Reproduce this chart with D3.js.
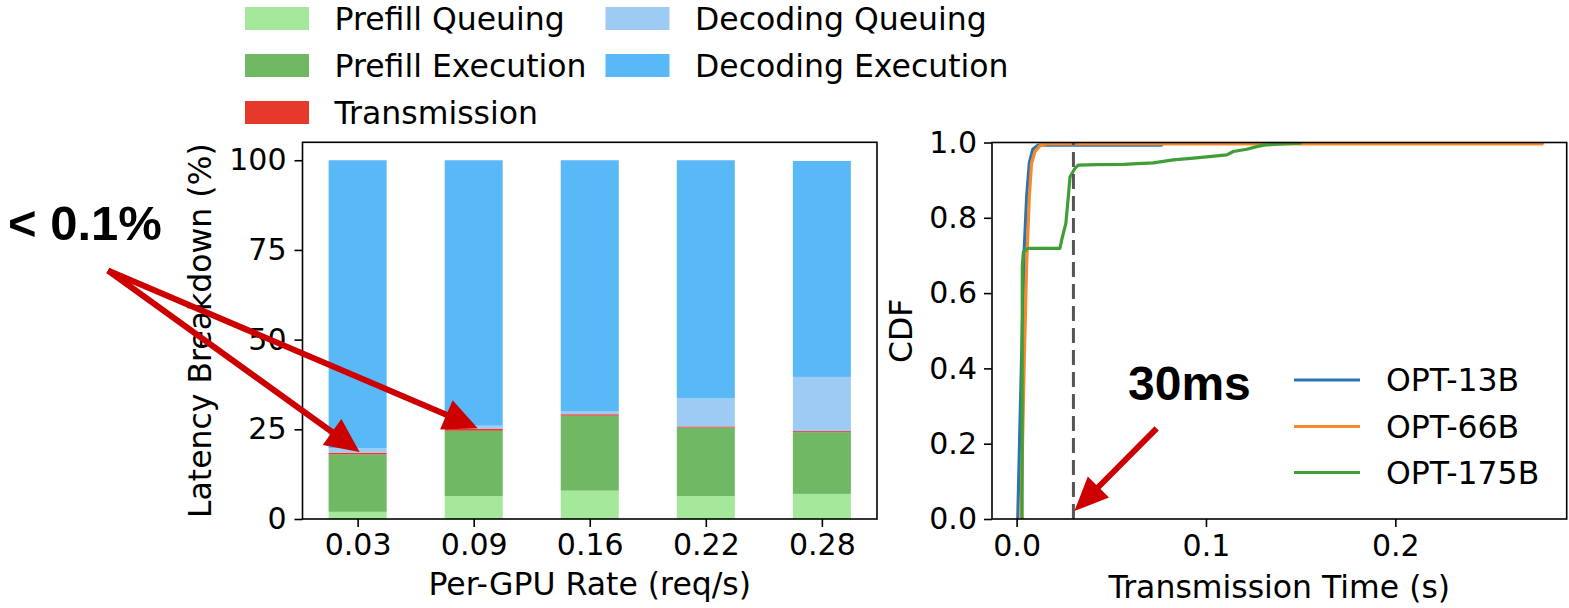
<!DOCTYPE html>
<html><head><meta charset="utf-8">
<script src="https://cdn.jsdelivr.net/npm/d3@7"></script>
<style>
html,body{margin:0;padding:0;background:#fff;}
svg{display:block;}
text{font-family:"DejaVu Sans",sans-serif;fill:#000;}
</style></head><body>
<svg id="chart" width="1569" height="608"></svg>
<script>
// ---------- data: latency breakdown (left) ----------
const categories = ["0.03", "0.09", "0.16", "0.22", "0.28"];
const prefillQueuing    = [2.0, 6.4, 7.9, 6.4, 7.0];
const prefillExecution  = [16.0, 18.2, 20.9, 19.1, 17.2];
const transmission      = [0.5, 0.6, 0.4, 0.3, 0.3];
const decodingQueuing   = [1.2, 0.8, 0.9, 7.8, 15.1];
const decodingExecution = [80.3, 74.0, 69.9, 66.4, 60.2];
const stackKeys = ["Prefill Queuing", "Prefill Execution", "Transmission", "Decoding Queuing", "Decoding Execution"];
const stackColors = ["#a6e89b", "#70b864", "#e5392b", "#9dcbf3", "#59b9f6"];
const leftYTicks = [0, 25, 50, 75, 100];

// ---------- data: transmission time CDF (right) ----------
const cdfNames = ["OPT-13B", "OPT-66B", "OPT-175B"];
const cdfColors = ["#2a74b2", "#f58a2c", "#3f9e36"];
const opt13bTime = [0.0006, 0.0017, 0.0030, 0.0040, 0.0053, 0.0067, 0.0085, 0.0114, 0.0766, 0.0770];
const opt13bCdf  = [0.0, 0.236, 0.502, 0.714, 0.856, 0.945, 0.982, 0.993, 0.993, 1.0];
const opt66bTime = [0.0023, 0.0040, 0.0053, 0.0067, 0.0079, 0.0097, 0.0123, 0.0158, 0.2775, 0.2779];
const opt66bCdf  = [0.0, 0.413, 0.679, 0.856, 0.945, 0.976, 0.991, 0.996, 0.996, 1.0];
const opt175bTime = [0.0029, 0.0029, 0.0030, 0.0036, 0.0061, 0.0229, 0.0238, 0.0260, 0.0273, 0.0282, 0.0308, 0.0325, 0.0420, 0.0563, 0.0640, 0.0722, 0.0827, 0.0920, 0.1004, 0.1110, 0.1144, 0.1215, 0.1268, 0.1303, 0.1400, 0.1497, 0.1500];
const opt175bCdf  = [0.0, 0.325, 0.670, 0.710, 0.719, 0.719, 0.741, 0.785, 0.856, 0.909, 0.931, 0.940, 0.941, 0.942, 0.944, 0.946, 0.954, 0.958, 0.962, 0.967, 0.976, 0.982, 0.989, 0.993, 0.996, 0.998, 1.0];
const rightYTicks = [0, 0.2, 0.4, 0.6, 0.8, 1.0];
const rightXTicks = [0, 0.1, 0.2];
const thresholdTime = 0.03;

const svg = d3.select("#chart");
svg.append("rect").attr("width", 1569).attr("height", 608).attr("fill", "#fff");

const TICK_FS = 30, LABEL_FS = 31.5;

// ---------- left plot ----------
const L = {x0: 302.5, x1: 877, y0: 519, y1: 142.3};
const xL = d3.scaleLinear().domain([-0.475, categories.length - 1 + 0.475]).range([L.x0, L.x1]);
const yL = d3.scaleLinear().domain([0, 105]).range([L.y0, L.y1]);
const barW = xL(0.5) - xL(0);

const rows = categories.map((c, i) => ({
  cat: c, i: i,
  "Prefill Queuing": prefillQueuing[i],
  "Prefill Execution": prefillExecution[i],
  "Transmission": transmission[i],
  "Decoding Queuing": decodingQueuing[i],
  "Decoding Execution": decodingExecution[i]
}));
const stacked = d3.stack().keys(stackKeys)(rows);
const gL = svg.append("g");
stacked.forEach((layer, k) => {
  gL.selectAll(null).data(layer).enter().append("rect")
    .attr("x", d => xL(d.data.i) - barW / 2)
    .attr("width", barW)
    .attr("y", d => yL(d[1]))
    .attr("height", d => yL(d[0]) - yL(d[1]))
    .attr("fill", stackColors[k]);
});

const axL = gL.append("g").attr("transform", `translate(0,${L.y0})`)
  .call(d3.axisBottom(xL).tickValues(categories.map((c, i) => i)).tickFormat(i => categories[i]).tickSize(8).tickPadding(7));
const ayL = gL.append("g").attr("transform", `translate(${L.x0},0)`)
  .call(d3.axisLeft(yL).tickValues(leftYTicks).tickSize(8).tickPadding(8));
[axL, ayL].forEach(a => {
  a.select(".domain").remove();
  a.selectAll("line").attr("stroke", "#000").attr("stroke-width", 1.6);
  a.selectAll("text").style("font-size", TICK_FS + "px").style("font-family", "DejaVu Sans").attr("fill", "#000");
});
gL.append("rect").attr("x", L.x0).attr("y", L.y1).attr("width", L.x1 - L.x0).attr("height", L.y0 - L.y1)
  .attr("fill", "none").attr("stroke", "#000").attr("stroke-width", 1.6);
gL.append("text").attr("x", (L.x0 + L.x1) / 2).attr("y", 595).attr("text-anchor", "middle")
  .style("font-size", LABEL_FS + "px").text("Per-GPU Rate (req/s)");
gL.append("text").attr("transform", `translate(211,${(L.y0 + L.y1) / 2}) rotate(-90)`).attr("text-anchor", "middle")
  .style("font-size", LABEL_FS + "px").text("Latency Breakdown (%)");

// legend (2 columns, column-major)
const legRowY = [18.5, 65.5, 112.5];
const legColX = [245, 605.5];
stackKeys.forEach((k, idx) => {
  const col = Math.floor(idx / 3), row = idx % 3;
  const x = legColX[col], y = legRowY[row];
  svg.append("rect").attr("x", x).attr("y", y - 11.5).attr("width", 64).attr("height", 23).attr("fill", stackColors[idx]);
  svg.append("text").attr("x", x + 89.5).attr("y", y).attr("dy", "0.36em")
    .style("font-size", LABEL_FS + "px").text(k);
});

// ---------- right plot ----------
const R = {x0: 992, x1: 1566.7, y0: 519, y1: 142.5};
const xR = d3.scaleLinear().domain([-0.013, 0.2905]).range([R.x0, R.x1]);
const yR = d3.scaleLinear().domain([0, 1]).range([R.y0, R.y1]);
const gR = svg.append("g");
svg.append("defs").append("clipPath").attr("id", "clipR").append("rect")
  .attr("x", R.x0).attr("y", R.y1).attr("width", R.x1 - R.x0).attr("height", R.y0 - R.y1);

const cdfSeries = [
  {name: cdfNames[0], t: opt13bTime, c: opt13bCdf},
  {name: cdfNames[1], t: opt66bTime, c: opt66bCdf},
  {name: cdfNames[2], t: opt175bTime, c: opt175bCdf}
];
const line = d3.line().x(d => xR(d[0])).y(d => yR(d[1]));
const gLines = gR.append("g").attr("clip-path", "url(#clipR)");
cdfSeries.forEach((s, k) => {
  gLines.append("path").datum(s.t.map((t, i) => [t, s.c[i]]))
    .attr("d", line).attr("fill", "none").attr("stroke", cdfColors[k])
    .attr("stroke-width", 3.2).attr("stroke-linejoin", "round");
});
gLines.append("line").attr("x1", xR(thresholdTime)).attr("x2", xR(thresholdTime))
  .attr("y1", yR(0)).attr("y2", yR(1))
  .attr("stroke", "#555").attr("stroke-width", 3).attr("stroke-dasharray", "15,7");

const axR = gR.append("g").attr("transform", `translate(0,${R.y0})`)
  .call(d3.axisBottom(xR).tickValues(rightXTicks).tickFormat(d3.format(".1f")).tickSize(8).tickPadding(8));
const ayR = gR.append("g").attr("transform", `translate(${R.x0},0)`)
  .call(d3.axisLeft(yR).tickValues(rightYTicks).tickFormat(d3.format(".1f")).tickSize(8).tickPadding(7));
[axR, ayR].forEach(a => {
  a.select(".domain").remove();
  a.selectAll("line").attr("stroke", "#000").attr("stroke-width", 1.6);
  a.selectAll("text").style("font-size", TICK_FS + "px").style("font-family", "DejaVu Sans").attr("fill", "#000");
});
gR.append("rect").attr("x", R.x0).attr("y", R.y1).attr("width", R.x1 - R.x0).attr("height", R.y0 - R.y1)
  .attr("fill", "none").attr("stroke", "#000").attr("stroke-width", 1.6);
gR.append("text").attr("x", (R.x0 + R.x1) / 2).attr("y", 598).attr("text-anchor", "middle")
  .style("font-size", LABEL_FS + "px").text("Transmission Time (s)");
gR.append("text").attr("transform", `translate(911.5,${(R.y0 + R.y1) / 2}) rotate(-90)`).attr("text-anchor", "middle")
  .style("font-size", LABEL_FS + "px").text("CDF");

// right legend
const rLegY = [380, 426.5, 472.5];
cdfNames.forEach((n, k) => {
  svg.append("line").attr("x1", 1294).attr("x2", 1360).attr("y1", rLegY[k]).attr("y2", rLegY[k])
    .attr("stroke", cdfColors[k]).attr("stroke-width", 3.2);
  svg.append("text").attr("x", 1386).attr("y", rLegY[k]).attr("dy", "0.36em")
    .style("font-size", LABEL_FS + "px").text(n);
});

// ---------- annotations ----------
function arrowPath(x1, y1, x2, y2, sw, hl, hw) {
  const dx = x2 - x1, dy = y2 - y1, len = Math.hypot(dx, dy);
  const ux = dx / len, uy = dy / len, px = -uy, py = ux;
  const bx = x2 - ux * hl, by = y2 - uy * hl;
  const pts = [
    [x1 + px * sw / 2, y1 + py * sw / 2], [bx + px * sw / 2, by + py * sw / 2],
    [bx + px * hw / 2, by + py * hw / 2], [x2, y2],
    [bx - px * hw / 2, by - py * hw / 2], [bx - px * sw / 2, by - py * sw / 2],
    [x1 - px * sw / 2, y1 - py * sw / 2]
  ];
  return "M" + pts.map(p => p[0].toFixed(1) + "," + p[1].toFixed(1)).join("L") + "Z";
}
const ARROW = "#cc0000";
const annStart = [108, 270.5];
svg.append("path").attr("d", arrowPath(annStart[0], annStart[1], xL(0) + 2, yL(18.7), 6, 34, 32)).attr("fill", ARROW);
svg.append("path").attr("d", arrowPath(annStart[0], annStart[1], xL(1) + 4, yL(25.3), 6, 34, 32)).attr("fill", ARROW);
svg.append("text").attr("x", 8).attr("y", 240)
  .style("font-family", "'Liberation Sans', Arial, sans-serif").style("font-weight", "bold").style("font-size", "49px")
  .text("< 0.1%");
svg.append("path").attr("d", arrowPath(1156.7, 428.3, xR(thresholdTime) + 1, yR(0.021), 6, 34, 30)).attr("fill", ARROW);
svg.append("text").attr("x", 1128).attr("y", 400)
  .style("font-family", "'Liberation Sans', Arial, sans-serif").style("font-weight", "bold").style("font-size", "48px")
  .text("30ms");
</script>
</body></html>
